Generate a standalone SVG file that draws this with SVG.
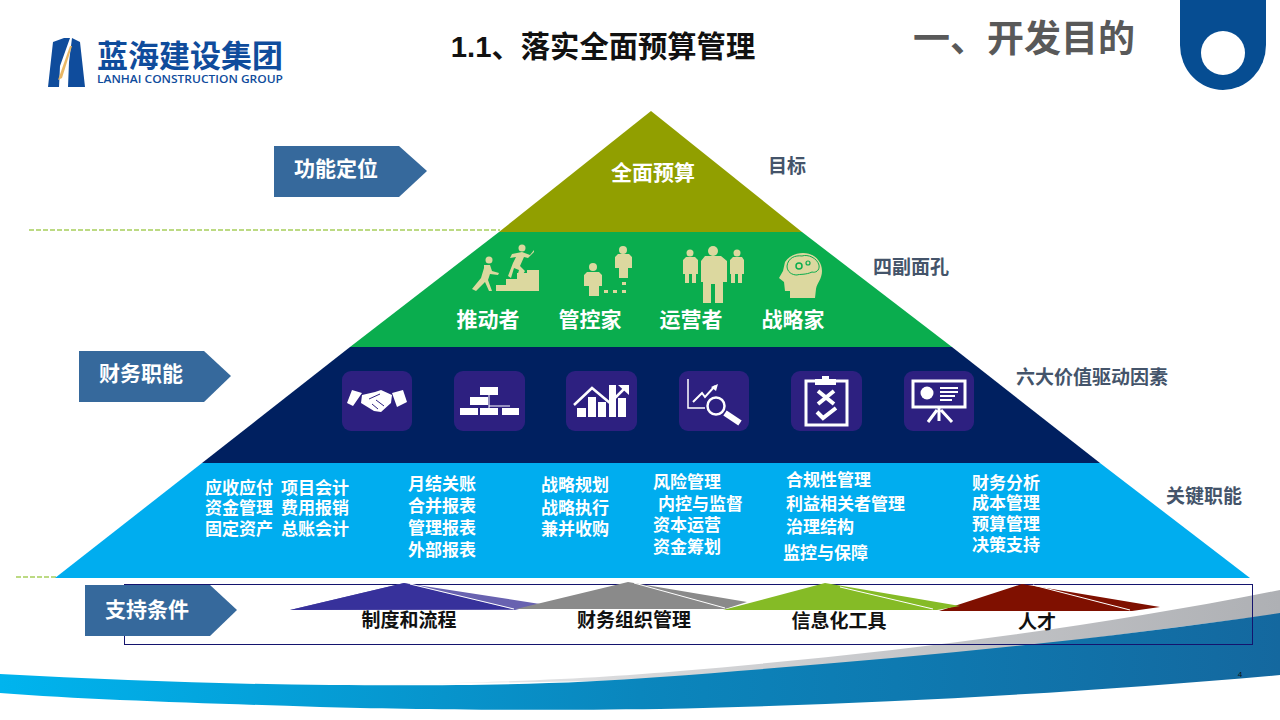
<svg xmlns="http://www.w3.org/2000/svg" width="1280" height="720" viewBox="0 0 1280 720">
<style>
text{font-family:"Liberation Sans","Noto Sans CJK SC",sans-serif;font-weight:700}
.f{font-size:17px;fill:#fff}
.lab{font-size:21px;fill:#fff}
.side{font-size:19px;fill:#44546a}
.sup{font-size:19px;fill:#111;text-anchor:middle}
.tag{fill:#36699c}
.ic{fill:#2d2080}
.dash{stroke:#a6ce5b;stroke-width:1.5;stroke-dasharray:5 2;fill:none}
.g{fill:#dcd89f}
.wf{fill:#fff}
.ln{stroke:#fff;fill:none}
</style>
<defs>
<linearGradient id="sw" x1="0" x2="1" y1="0" y2="0"><stop offset="0" stop-color="#00b4ee"/><stop offset=".5" stop-color="#0a86bd"/><stop offset="1" stop-color="#14689f"/></linearGradient>
<linearGradient id="gr" x1="0" x2="1" y1="0" y2="0"><stop offset="0" stop-color="#f4f4f5"/><stop offset=".3" stop-color="#d8d9db"/><stop offset="1" stop-color="#aeb0b4"/></linearGradient>
</defs>
<rect width="1280" height="720" fill="#fff"/>
<g id="swoosh">
<path d="M340 685 C520 683 610 677 680 671 C880 654 1080 630 1280 590 L1280 614 L1000 650 L660 680Z" fill="url(#gr)"/>
<path d="M0 674 C110 680 220 684 330 685 C480 686 570 684 660 677 C860 662 1080 643 1280 613 V675 C1080 693 860 705 660 709 C500 711 400 709 320 707 C200 703 90 700 0 693Z" fill="url(#sw)"/>
</g>
<g id="logo">
<path d="M48 87 L53 42 L64 38 L70 38 L60 66 L59 87Z M72 38 L80 42 L85 87 L68 87 L69 62Z" fill="#0f4c9c"/>
<path d="M58 80 L70 46 L72 46 L62 78Z" fill="#e9b765"/>
<text x="97" y="67" font-size="31" fill="#0f4c9c">蓝海建设集团</text>
<text x="97" y="83" font-size="10" fill="#0f4c9c" textLength="186" lengthAdjust="spacingAndGlyphs" style="font-family:'Open Sans',sans-serif;font-weight:600">LANHAI CONSTRUCTION GROUP</text>
</g>
<g id="title"><text x="603" y="57" font-size="29.300" fill="#111" text-anchor="middle">1.1、落实全面预算管理</text></g>
<g id="section"><text x="1024" y="52" font-size="37" fill="#595959" text-anchor="middle">一、开发目的</text></g>
<g id="badge">
<path d="M1180 0 H1266 V45 A43 45 0 0 1 1180 45Z" fill="#064d92"/>
<circle cx="1223" cy="53" r="22" fill="#fff"/>
</g>
<g id="connectors">
<path class="dash" d="M29 230 H500"/>
<path class="dash" d="M16 577 H137"/>
</g>
<g id="pyramid-top"><path d="M651 111 L802 232 H499Z" fill="#919f00"/><text class="lab" x="653" y="180" text-anchor="middle">全面预算</text></g>
<g id="pyramid-green"><path d="M499 232 H802 L952 347 H350Z" fill="#0aad4e"/>
<text class="lab" x="488" y="327" text-anchor="middle">推动者</text><text class="lab" x="590" y="327" text-anchor="middle">管控家</text><text class="lab" x="691" y="327" text-anchor="middle">运营者</text><text class="lab" x="793" y="327" text-anchor="middle">战略家</text>
<g id="icon-driver" class="g"><circle cx="489" cy="260" r="3.500"/><path d="M484 265 L490 265 L492 271 L499 273 L498 275 L490 274 L488 280 L492 291 L489 291 L485 282 L476 291 L472 289 L481 278 L484 268Z"/><circle cx="522" cy="248" r="3.500"/><path d="M512 254 L522 252 L530 255 L534 250 L534 252 L528 258 L524 257 L520 266 L525 271 L520 279 L517 277 L519 270 L514 268 L511 278 L508 276 L513 263 L516 257 L510 258Z"/><path d="M496 291 V285 H506 V279 H517 V273 H527 V270 H539 V291Z"/></g>
<g id="icon-control" class="g"><circle cx="593" cy="267" r="4"/><path d="M587 272 H599 L602 275 V286 H599 V296 H589 V286 H584 V275Z"/><circle cx="623" cy="250" r="4"/><path d="M618 254 H629 L632 257 V268 H628 V278 H619 V268 H615 V257Z"/><rect x="604" y="290" width="4" height="3"/><rect x="613" y="290" width="4" height="3"/><rect x="622" y="290" width="4" height="3"/><rect x="622" y="282" width="4" height="3"/></g>
<g id="icon-operate" class="g"><circle cx="690" cy="253" r="3.500"/><path d="M686 257 H695 L698 260 V274 H696 V283 H692 V274 H689 V283 H685 V274 H683 V260Z"/><circle cx="713" cy="251" r="5"/><path d="M705 256 H721 L727 261 V282 H723 V303 H715 V284 H711 V303 H703 V282 H701 V261Z"/><circle cx="737" cy="253" r="3.500"/><path d="M733 257 H742 L744 260 V274 H742 V283 H738 V274 H735 V283 H731 V274 H730 V260Z"/></g>
<g id="icon-strategy"><path class="g" d="M785 262 C789 256 796 253 803 253 C814 253 822 261 822 271 C822 279 817 283 816 289 L815 298 H790 V291 H785 L784 282 L779 278 L783 271Z"/><path d="M787 266 C788 258 795 255 802 256 C808 254 817 258 819 265 C820 271 815 273 812 272 C806 275 799 274 797 275 C792 275 787 272 787 266Z" fill="#dcd89f" stroke="#0aad4e" stroke-width="1"/><circle cx="799" cy="266" r="3" fill="#dcd89f" stroke="#0aad4e" stroke-width="1.500"/><circle cx="808" cy="263" r="2" fill="#dcd89f" stroke="#0aad4e" stroke-width="1.200"/></g>
</g>
<g id="pyramid-navy"><path d="M350 347 H952 L1100 463 H202Z" fill="#002060"/>
<g id="icon1"><rect class="ic" x="342" y="371" width="70" height="60" rx="9"/><path class="wf" d="M347 403 L352 390 L362 393 L353 406Z M392 393 L403 390 L407 402 L397 407Z"/><path class="wf" d="M362 395 L375 392 L381 390 L392 395 L391 403 L381 412 L374 411 L361 403Z"/><path d="M369 399 L380 394 M376 400 L384 406 M372 404 L378 409" stroke="#2d2080" fill="none"/></g>
<g id="icon2"><rect class="ic" x="454" y="371" width="71" height="60" rx="9"/><path class="wf" d="M480 387 H498 V395 H480Z M470 397 H488 V405 H470Z M460 408 H478 V415 H460Z M480 408 H498 V415 H480Z M502 408 H519 V415 H502Z"/><path class="ln" d="M489 395 V408 M489 406 H510"/></g>
<g id="icon3"><rect class="ic" x="566" y="371" width="71" height="60" rx="9"/><path class="wf" d="M577 408 H586 V417 H577Z M588 397 H596 V417 H588Z M598 402 H606 V417 H598Z M609 385 H616 V417 H609Z M618 398 H626 V417 H618Z"/><path class="ln" stroke-width="2.500" d="M574 405 L592 388 L610 403 L626 387"/><path class="wf" d="M618 385 H629 V395Z"/></g>
<g id="icon4"><rect class="ic" x="679" y="371" width="70" height="60" rx="9"/><path class="ln" stroke-width="1.500" d="M688 379 V408 H705"/><path class="ln" stroke-width="2" d="M693 402 L702 393 L705 397 L715 386"/><path class="wf" d="M711 387 L718 384 L716 391Z"/><circle cx="716" cy="406" r="8.500" fill="#2d2080" stroke="#fff" stroke-width="2.500"/><path class="ln" d="M725 413 L740 423" stroke-width="6"/></g>
<g id="icon5"><rect class="ic" x="791" y="371" width="71" height="60" rx="9"/><rect x="806" y="381" width="41" height="44" fill="#2d2080" stroke="#fff" stroke-width="3"/><path class="wf" d="M815 379 H836 V385 H815Z M822 376 H829 V380 H822Z"/><path class="ln" stroke-width="4" d="M818 391 L834 404 M834 391 L818 404"/><path class="ln" stroke-width="4" d="M817 412 L823 418 L836 408"/></g>
<g id="icon6"><rect class="ic" x="904" y="371" width="70" height="60" rx="9"/><rect x="913" y="381" width="52" height="26" fill="#2d2080" stroke="#fff" stroke-width="3"/><circle cx="927" cy="393" r="6.500" fill="#fff"/><path class="ln" stroke-width="2" d="M940 388 H958 M940 392 H958 M940 396 H955 M940 400 H952"/><path class="ln" stroke-width="3" d="M939 408 V421 M937 410 L928 422 M941 410 L952 422"/></g>
</g>
<g id="pyramid-sky"><path d="M202 463 H1100 L1250 578 H55Z" fill="#00adef"/>
<text class="f"><tspan x="205" y="494">应收应付</tspan><tspan x="281" y="494">项目会计</tspan><tspan x="205" y="514">资金管理</tspan><tspan x="281" y="514">费用报销</tspan><tspan x="205" y="535">固定资产</tspan><tspan x="281" y="535">总账会计</tspan></text>
<text class="f"><tspan x="408" y="490">月结关账</tspan><tspan x="408" y="512">合并报表</tspan><tspan x="408" y="534">管理报表</tspan><tspan x="408" y="556">外部报表</tspan></text>
<text class="f"><tspan x="541" y="491">战略规划</tspan><tspan x="541" y="514">战略执行</tspan><tspan x="541" y="535">兼并收购</tspan></text>
<text class="f"><tspan x="653" y="488">风险管理</tspan><tspan x="658" y="510">内控与监督</tspan><tspan x="653" y="531">资本运营</tspan><tspan x="653" y="553">资金筹划</tspan></text>
<text class="f"><tspan x="786" y="486">合规性管理</tspan><tspan x="786" y="510">利益相关者管理</tspan><tspan x="786" y="533">治理结构</tspan><tspan x="783" y="559">监控与保障</tspan></text>
<text class="f"><tspan x="972" y="489">财务分析</tspan><tspan x="972" y="509">成本管理</tspan><tspan x="972" y="530">预算管理</tspan><tspan x="972" y="551">决策支持</tspan></text>
</g>
<g id="tag-function"><path class="tag" d="M274 146 H399 L427 171 L399 197 H274Z"/><text class="lab" x="294" y="176">功能定位</text></g>
<g id="tag-finance"><path class="tag" d="M79 351 H204 L231 376 L204 402 H79Z"/><text class="lab" x="99" y="381">财务职能</text></g>
<g id="label-goal"><text class="side" x="768" y="173">目标</text></g>
<g id="label-faces"><text class="side" x="873" y="274">四副面孔</text></g>
<g id="label-six"><text class="side" x="1016" y="384">六大价值驱动因素</text></g>
<g id="label-key"><text class="side" x="1166" y="503">关键职能</text></g>
<g id="support">
<rect x="124.500" y="584.500" width="1128" height="60" fill="none" stroke="#14146e" stroke-width="1"/>
<g id="tag-support"><path class="tag" d="M85 585 H210 L237 610 L210 636 H85Z"/><text class="lab" x="105" y="617">支持条件</text></g>
<g id="sup1"><path d="M404 583 L540 604 L515 610 H290Z" fill="#6862b0"/><path d="M404 583 L512 609 L290 610Z" fill="#37319b"/><path class="ln" d="M410 584 L514 609"/><text class="sup" x="409" y="627">制度和流程</text></g>
<g id="sup2"><path d="M628 582 L747 602 L725 609 H516Z" fill="#8a8a8a"/><path class="ln" d="M634 583 L725 608"/><text class="sup" x="634" y="627">财务组织管理</text></g>
<g id="sup4"><path d="M1022 584 L1160 607 L1132 611 H939Z" fill="#7f1000"/><path class="ln" d="M1033 585 L1130 610"/><text class="sup" x="1037" y="629">人才</text></g>
<g id="sup3"><path d="M825 583 L960 606 L937 610 H723Z" fill="#85bb26"/><path class="ln" d="M840 587 L933 609"/><text class="sup" x="839" y="628">信息化工具</text></g>
</g>
<g id="page"><text x="1240" y="677" font-size="8" fill="#111" text-anchor="middle" style="font-weight:400">4</text></g>
</svg>
